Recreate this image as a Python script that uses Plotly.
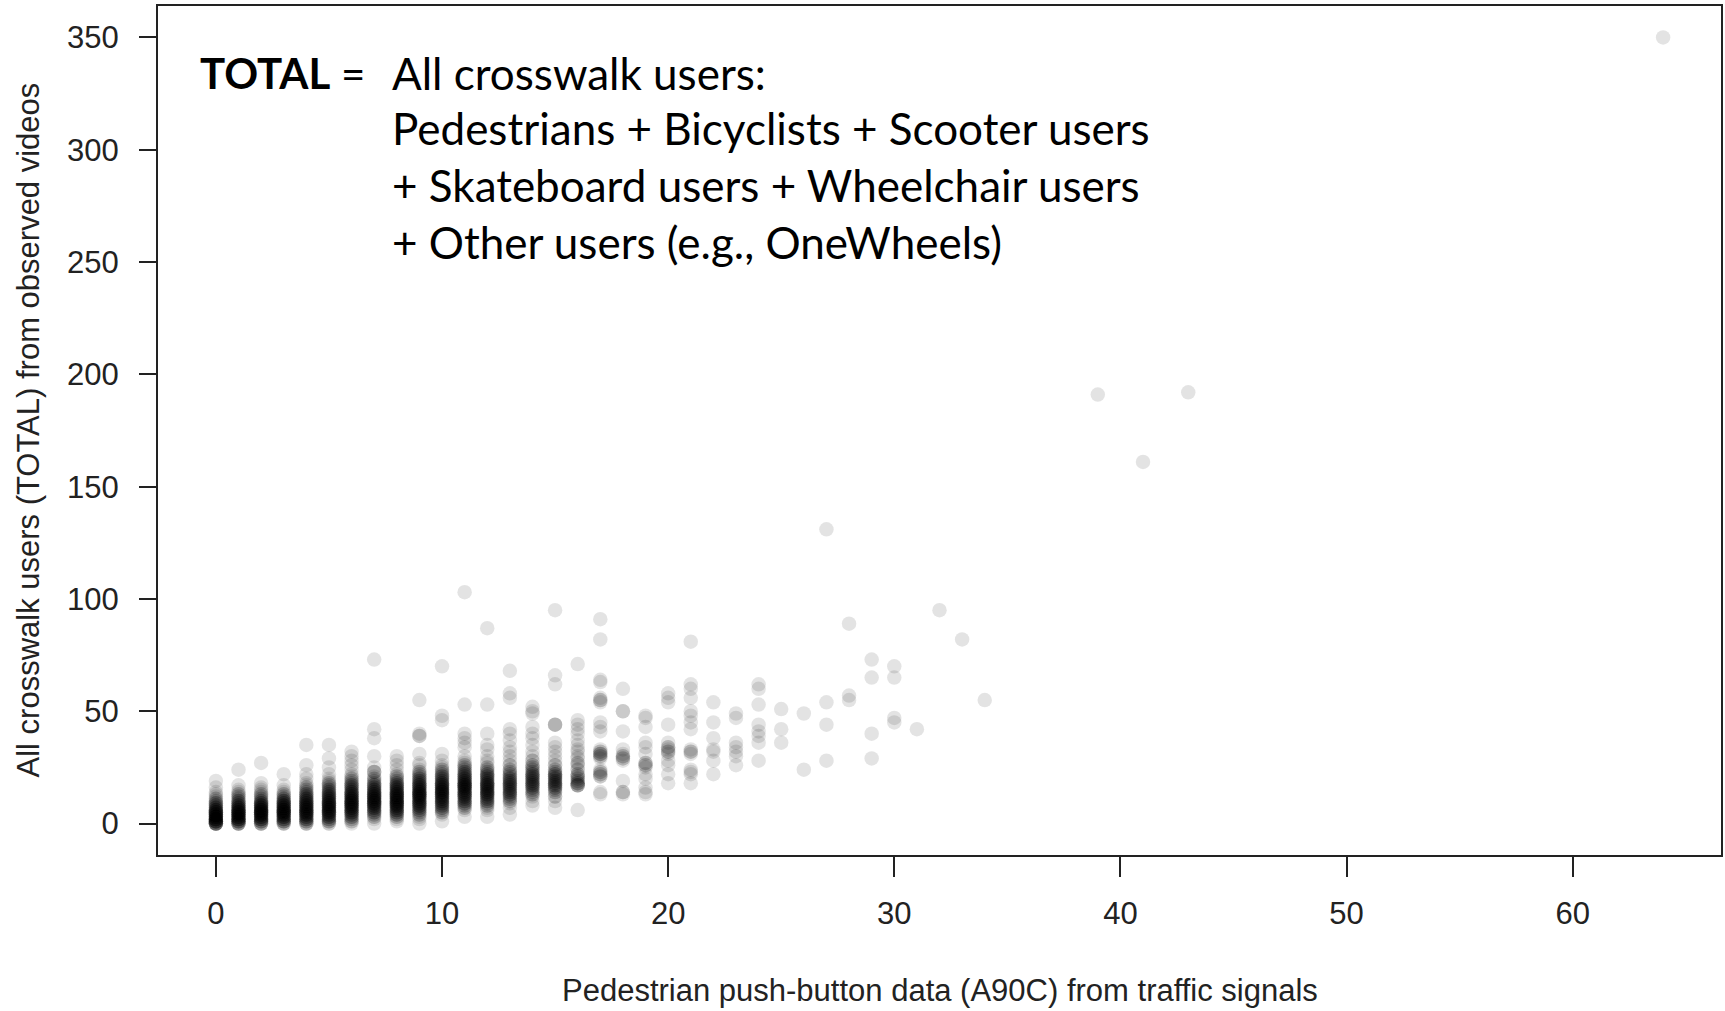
import plotly.graph_objects as go

# ---- data: push-button count (x), observed crosswalk users (y), number of observations (n)
push_button = [
    0,0,0,0,0, 0,0,0,0,0, 0,0,0,0,0, 0,0,
    1,1,1,1,1, 1,1,1,1,1, 1,1,1,1,1, 1,1,1,
    2,2,2,2,2, 2,2,2,2,2, 2,2,2,2,2, 2,2,2,2,
    3,3,3,3,3, 3,3,3,3,3, 3,3,3,3,3, 3,3,3,
    4,4,4,4,4, 4,4,4,4,4, 4,4,4,4,4, 4,4,4,4,4, 4,4,4,
    5,5,5,5,5, 5,5,5,5,5, 5,5,5,5,5, 5,5,5,5,5, 5,5,5,5,5,
    6,6,6,6,6, 6,6,6,6,6, 6,6,6,6,6, 6,6,6,6,6, 6,6,6,6,6, 6,6,6,
    7,7,7,7,7, 7,7,7,7,7, 7,7,7,7,7, 7,7,7,7,7, 7,7,7,7,7, 7,7,
    8,8,8,8,8, 8,8,8,8,8, 8,8,8,8,8, 8,8,8,8,8, 8,8,8,8,8, 8,
    9,9,9,9,9, 9,9,9,9,9, 9,9,9,9,9, 9,9,9,9,9, 9,9,9,9,9, 9,9,9,9,9,
    10,10,10,10,10, 10,10,10,10,10, 10,10,10,10,10, 10,10,10,10,10, 10,10,10,10,10, 10,10,10,10,
    11,11,11,11,11, 11,11,11,11,11, 11,11,11,11,11, 11,11,11,11,11, 11,11,11,11,11, 11,11,11,11,11, 11,
    12,12,12,12,12, 12,12,12,12,12, 12,12,12,12,12, 12,12,12,12,12, 12,12,12,12,12, 12,12,12,12,
    13,13,13,13,13, 13,13,13,13,13, 13,13,13,13,13, 13,13,13,13,13, 13,13,13,13,13, 13,13,13,13,
    14,14,14,14,14, 14,14,14,14,14, 14,14,14,14,14, 14,14,14,14,14, 14,14,14,14,14, 14,14,
    15,15,15,15,15, 15,15,15,15,15, 15,15,15,15,15, 15,15,15,15,15, 15,15,15,15,
    16,16,16,16,16, 16,16,16,16,16, 16,16,16,16,16, 16,16,16,16,16, 16,
    17,17,17,17,17, 17,17,17,17,17, 17,17,17,17,17, 17,17,17,17,17, 17,
    18,18,18,18,18, 18,18,18,18,18, 18,
    19,19,19,19,19, 19,19,19,19,19, 19,19,19,19,
    20,20,20,20,20, 20,20,20,20,20, 20,20,20,
    21,21,21,21,21, 21,21,21,21,21, 21,21,21,21,21,
    22,22,22,22,22, 22,22,
    23,23,23,23,23, 23,23,
    24,24,24,24,24, 24,24,24,
    25,25,25,
    26,26,
    27,27,27,27,
    28,28,28,
    29,29,29,29,
    30,30,30,30,
    31, 32, 33, 34, 39, 41, 43, 64,
]

total_users = [
    0,1,2,3,4,5,6,7,8,9,10,11,12,13,14,16,19,
    0,1,2,3,4,5,6,7,8,9,10,11,12,13,14,15,17,24,
    0,1,2,3,4,5,6,7,8,9,10,11,12,13,14,15,16,18,27,
    0,1,2,3,4,5,6,7,8,9,10,11,12,13,14,15,17,22,
    0,1,2,3,4,5,6,7,8,9,10,11,12,13,14,15,16,17,18,20,22,26,35,
    0,1,2,3,4,5,6,7,8,9,10,11,12,13,14,15,16,17,18,19,20,22,25,29,35,
    0,1,2,3,4,5,6,7,8,9,10,11,12,13,14,15,16,17,18,19,20,21,22,24,26,28,30,32,
    0,2,3,4,5,6,7,8,9,10,11,12,13,14,15,16,17,18,19,20,21,23,25,30,38,42,73,
    1,2,3,4,5,6,7,8,9,10,11,12,13,14,15,16,17,18,19,20,21,22,24,26,28,30,
    0,2,3,4,5,6,7,8,9,10,11,12,13,14,15,16,17,18,19,20,21,22,23,24,26,27,31,39,40,55,
    1,4,5,6,7,8,9,10,11,12,13,14,15,16,17,18,19,20,21,22,23,24,25,26,28,31,46,48,70,
    3,6,7,8,9,10,11,12,13,14,15,16,17,18,19,20,21,22,23,24,25,26,27,28,30,34,36,38,40,53,103,
    3,6,7,8,9,10,11,12,13,14,15,16,17,18,19,20,21,22,23,24,25,27,28,30,33,35,40,53,87,
    4,7,9,10,11,12,13,14,15,16,17,18,19,20,21,22,23,24,26,28,30,32,34,37,40,42,56,58,68,
    8,10,12,13,14,15,16,17,18,19,20,21,22,23,24,25,26,28,30,32,35,38,40,43,49,50,52,
    7,10,12,14,15,16,17,18,19,20,21,22,23,24,26,28,30,32,34,36,44,62,66,95,
    6,17,18,19,20,21,22,24,26,27,29,30,32,33,35,37,40,42,44,46,71,
    13,14,21,22,23,24,29,30,31,32,33,41,43,45,54,55,56,63,64,82,91,
    13,14,19,28,29,30,31,33,41,50,60,
    13,14,16,20,22,25,26,27,31,34,36,43,47,48,
    18,22,26,28,31,32,33,34,36,44,54,56,58,
    18,22,23,24,31,32,33,42,45,48,50,56,60,62,81,
    22,28,32,33,38,45,54,
    26,30,32,34,36,47,49,
    28,36,39,41,44,53,60,62,
    36,42,51,
    24,49,
    28,44,54,131,
    55,57,89,
    29,40,65,73,
    45,47,65,70,
    42, 95, 82, 55, 191, 161, 192, 350,
]

n_obs = [
    8,7,7,7,6,6,5,4,3,3,2,2,1,1,1,1,1,
    5,5,6,6,6,6,5,5,4,3,3,2,2,2,1,1,1,1,
    4,4,5,5,6,6,6,5,5,4,3,2,2,2,1,1,1,1,1,
    3,4,4,5,5,6,6,5,5,4,4,3,2,2,1,1,1,1,
    3,3,4,4,5,5,5,5,5,4,4,4,3,3,2,2,2,1,1,1,1,1,1,
    2,3,3,4,4,5,5,5,5,5,4,4,4,3,3,3,2,2,2,1,1,1,1,1,1,
    1,2,2,3,3,4,4,5,5,5,5,5,4,4,4,3,3,3,2,2,2,1,1,1,1,1,1,1,
    1,1,2,2,3,3,4,4,5,5,5,5,4,4,4,3,3,2,2,2,1,3,1,1,1,1,1,
    1,1,2,3,3,4,4,5,5,5,5,5,5,4,4,4,3,3,2,2,2,1,1,1,1,1,
    1,1,1,2,2,3,3,4,4,4,4,5,5,5,4,4,4,3,3,3,2,2,2,1,1,1,1,2,1,1,
    1,1,2,2,3,3,3,4,4,4,4,5,5,4,4,4,3,3,3,2,2,2,1,1,1,1,1,1,1,
    1,1,2,2,3,3,3,4,4,4,4,5,5,4,4,4,3,3,3,2,2,2,1,1,1,1,1,1,1,1,1,
    1,1,1,2,2,3,3,3,4,4,4,4,4,4,3,3,3,3,2,2,2,1,1,1,1,1,1,1,1,
    1,1,1,2,2,2,3,3,3,3,3,3,3,3,2,2,2,2,2,1,1,1,1,1,1,1,1,1,1,
    1,1,1,2,2,2,3,3,3,3,3,3,3,2,2,2,2,2,1,1,1,1,1,1,1,1,1,
    1,1,2,2,2,3,3,3,3,3,3,3,2,2,2,1,1,1,1,1,3,1,1,1,
    1,4,3,2,2,2,2,2,1,2,1,1,1,1,1,1,1,1,1,1,1,
    1,1,2,2,2,1,1,2,3,2,1,1,1,1,1,2,1,1,1,1,1,
    1,2,1,1,2,2,1,1,1,2,1,
    1,1,1,1,1,1,2,2,1,1,1,1,1,1,
    1,1,1,1,1,2,1,2,1,1,1,1,1,
    1,1,1,1,1,2,1,1,1,1,1,1,1,1,1,
    1,1,1,1,1,1,1,
    1,1,1,1,1,1,1,
    1,1,1,1,1,1,1,1,
    1,1,1,
    1,1,
    1,1,1,1,
    1,1,1,
    1,1,1,1,
    1,1,1,1,
    1,1,1,1,1,1,1,1,
]

x_ticks = [0, 10, 20, 30, 40, 50, 60]
y_ticks = [0, 50, 100, 150, 200, 250, 300, 350]
x_title = "Pedestrian push-button data (A90C) from traffic signals"
y_title = "All crosswalk users (TOTAL) from observed videos"
note_lines = [
    "All crosswalk users:",
    "Pedestrians + Bicyclists + Scooter users",
    "+ Skateboard users + Wheelchair users",
    "+ Other users (e.g., OneWheels)",
]

assert len(push_button) == len(total_users) == len(n_obs), (len(push_button), len(total_users), len(n_obs))

# expand repeated observations so that overlapping translucent markers darken
xs, ys = [], []
for xv, yv, nv in zip(push_button, total_users, n_obs):
    xs.extend([xv] * nv)
    ys.extend([yv] * nv)

fig = go.Figure()
fig.add_trace(go.Scatter(
    x=xs, y=ys, mode="markers",
    marker=dict(size=14.5, color="rgba(0,0,0,0.11)", line=dict(width=0)),
    hoverinfo="skip", showlegend=False,
))

axis_font = dict(family="Liberation Sans, Arial, sans-serif", size=31, color="#222")
x_lo, x_hi = min(push_button), max(push_button)
y_lo, y_hi = min(total_users), max(total_users)
xpad = (x_hi - x_lo) * 0.04
ypad = (y_hi - y_lo) * 0.04

fig.update_xaxes(
    range=[x_lo - xpad, x_hi + xpad], tickvals=x_ticks, ticktext=[str(v) for v in x_ticks],
    ticks="outside", ticklen=20, tickwidth=1.5, tickcolor="#222",
    showline=True, mirror=True, linecolor="#222", linewidth=2,
    showgrid=False, zeroline=False, tickfont=axis_font, ticklabelstandoff=10,
    automargin=False,
)
fig.update_yaxes(
    range=[y_lo - ypad, y_hi + ypad], tickvals=y_ticks, ticktext=[str(v) for v in y_ticks],
    ticks="outside", ticklen=17, tickwidth=1.5, tickcolor="#222",
    showline=True, mirror=True, linecolor="#222", linewidth=2,
    showgrid=False, zeroline=False, tickfont=axis_font, ticklabelstandoff=14,
    automargin=False,
)

annotations = [
    dict(text=x_title, xref="paper", yref="paper", x=0.5, y=0, yshift=-135,
         xanchor="center", yanchor="middle", showarrow=False, font=axis_font),
    dict(text=y_title, xref="paper", yref="paper", x=0, y=0.5, xshift=-130,
         xanchor="center", yanchor="middle", textangle=-90, showarrow=False, font=axis_font),
]
note_font = dict(family="Lato, Carlito, Calibri, sans-serif", size=44, color="#000")
total_font = dict(family="Lato, Carlito, Calibri, sans-serif", size=42, color="#000")
annotations.append(dict(text="<b>TOTAL</b> =", xref="paper", yref="paper", x=0.0255, y=0.9212,
                        xanchor="left", yanchor="middle", showarrow=False, font=total_font))
line_y = [0.9212, 0.8564, 0.7893, 0.7222]
for txt, yy in zip(note_lines, line_y):
    annotations.append(dict(text=txt, xref="paper", yref="paper", x=0.1483, y=yy,
                            xanchor="left", yanchor="middle", showarrow=False, font=note_font))

fig.update_layout(
    width=1725, height=1011,
    margin=dict(l=158, r=4, t=6, b=156),
    paper_bgcolor="white", plot_bgcolor="white",
    annotations=annotations,
)

fig.write_html(
    "out.html",
    config={"displayModeBar": False},
    post_script="document.body.style.margin='0';document.body.style.overflow='hidden';",
)
